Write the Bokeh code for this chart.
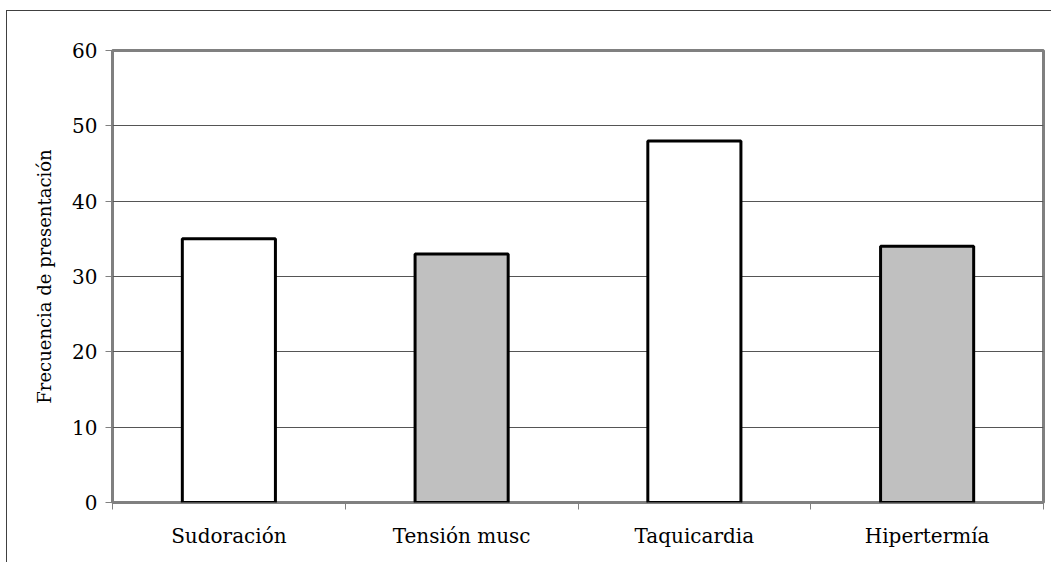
from bokeh.plotting import figure
from bokeh.models import Range1d, FixedTicker
from bokeh.embed import file_html
from bokeh.resources import INLINE

categories = ["Sudoración", "Tensión musc", "Taquicardia", "Hipertermía"]
values = [35, 33, 48, 34]
bar_colors = ["#FFFFFF", "#C0C0C0", "#FFFFFF", "#C0C0C0"]
y_ticks = [0, 10, 20, 30, 40, 50, 60]
y_label = "Frecuencia de presentación"

n = len(categories)
centers = [i + 0.5 for i in range(n)]
bounds = [float(i) for i in range(n + 1)]

FONT = "DejaVu Serif"

p = figure(width=1045, height=552, output_backend="svg", toolbar_location=None,
           x_range=Range1d(0, n), y_range=Range1d(0, 60),
           min_border_left=105, min_border_top=39, min_border_right=9, min_border_bottom=61)
p.styles = {"border-top": "1px solid #404040", "border-left": "1px solid #404040",
            "margin-left": "6px", "margin-top": "10px"}

p.background_fill_color = "white"
p.border_fill_color = "white"
p.outline_line_color = "#808080"
p.outline_line_width = 3

p.vbar(x=centers, top=values, bottom=0, width=0.4, fill_color=bar_colors,
       line_color="black", line_width=3)

# grid
p.xgrid.visible = False
p.ygrid.ticker = FixedTicker(ticks=y_ticks)
p.ygrid.grid_line_color = "#555555"
p.ygrid.grid_line_width = 1

# y axis
ya = p.yaxis[0]
ya.ticker = FixedTicker(ticks=y_ticks)
ya.axis_line_color = None
ya.major_tick_line_color = "#808080"
ya.major_tick_out = 7
ya.major_tick_in = 0
ya.minor_tick_line_color = None
ya.major_label_text_font = FONT
ya.major_label_text_font_size = "20px"
ya.major_label_text_color = "black"
ya.major_label_standoff = 8
ya.axis_label = y_label
ya.axis_label_text_font = FONT
ya.axis_label_text_font_size = "18px"
ya.axis_label_text_font_style = "normal"
ya.axis_label_text_color = "black"
ya.axis_label_standoff = 14

# x axis
xa = p.xaxis[0]
xa.ticker = FixedTicker(ticks=centers, minor_ticks=bounds)
xa.major_label_overrides = {c: lab for c, lab in zip(centers, categories)}
xa.axis_line_color = None
xa.major_tick_line_color = None
xa.major_tick_out = 0
xa.major_tick_in = 0
xa.minor_tick_line_color = "#808080"
xa.minor_tick_out = 7
xa.minor_tick_in = 0
xa.major_label_text_font = FONT
xa.major_label_text_font_size = "20px"
xa.major_label_text_color = "black"
xa.major_label_standoff = 14

open("out.html", "w").write(file_html(p, INLINE))
